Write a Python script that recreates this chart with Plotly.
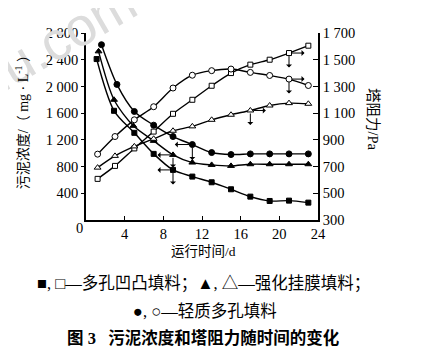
import plotly.graph_objects as go

# ---- data ----
days = [1.2, 3, 5, 7, 9, 11, 13, 15, 17, 19, 21, 23]
days_fc = [1.6, 3.2, 5, 7, 9, 11, 13, 15, 17, 19, 21, 23]
days_ft = [1.3, 2.9, 4.9, 7, 9, 11, 13, 15, 17, 19, 21, 23]
days_fs = [1.1, 2.9, 5, 7, 9, 11, 13, 15, 17, 19, 21, 23]

# sludge concentration, mg/L (left axis, filled markers)
conc_porous_convex = [2410, 1635, 1305, 990, 750, 650, 565, 460, 350, 285, 290, 260]       # ■
conc_enhanced_film = [2525, 1800, 1410, 1185, 975, 860, 825, 810, 835, 835, 835, 835]      # ▲
conc_light_porous = [2625, 2030, 1625, 1420, 1250, 1130, 1010, 980, 990, 990, 990, 990]    # ●

# tower resistance, Pa (right axis, open markers)
res_porous_convex = [608, 705, 836, 962, 1095, 1200, 1305, 1400, 1463, 1500, 1550, 1605]   # □
res_enhanced_film = [692, 780, 851, 908, 968, 1001, 1050, 1088, 1120, 1157, 1175, 1170]    # △
res_light_porous = [793, 925, 1050, 1148, 1288, 1384, 1418, 1430, 1405, 1382, 1355, 1307]  # ○

x_ticks = [4, 8, 12, 16, 20, 24]
left_ticks = [400, 800, 1200, 1600, 2000, 2400, 2800]
left_ticktext = ["400", "800", "1 200", "1 600", "2 000", "2 400", "2 800"]
right_ticks = [300, 500, 700, 900, 1100, 1300, 1500, 1700]
right_ticktext = ["300", "500", "700", "900", "1 100", "1 300", "1 500", "1 700"]

SERIF = "Liberation Serif, Times New Roman, Noto Sans CJK SC, serif"
CJK = "Liberation Serif, Noto Sans CJK SC, serif"

fig = go.Figure()

def add(xs, ys, symbol, filled, size, axis):
    fig.add_trace(go.Scatter(
        x=xs, y=ys, mode="lines+markers", yaxis=axis,
        line=dict(color="black", width=1.4, shape="spline", smoothing=0.8),
        marker=dict(symbol=symbol, size=size,
                    color="black" if filled else "white",
                    line=dict(color="black", width=1)),
        showlegend=False, cliponaxis=False))

add(days_fs, conc_porous_convex, "square", True, 5, "y")
add(days_ft, conc_enhanced_film, "triangle-up", True, 6, "y")
add(days_fc, conc_light_porous, "circle", True, 6, "y")
add(days, res_porous_convex, "square", False, 5, "y2")
add(days, res_enhanced_film, "triangle-up", False, 6, "y2")
add(days, res_light_porous, "circle", False, 6, "y2")

annotations = []

def arrow(xv, yv, yref, ax, ay):
    annotations.append(dict(
        x=xv, y=yv, xref="x", yref=yref, text="", showarrow=True,
        ax=ax, ay=ay, arrowside="start", arrowhead=2, arrowsize=1.1,
        arrowwidth=1, arrowcolor="black", standoff=3))

# open series -> right axis (arrows point right)
arrow(days[10], res_porous_convex[10], "y2", 17, 0)
arrow(days[10], res_porous_convex[10], "y2", 0, 16)
arrow(days[10], res_light_porous[10], "y2", 17, 0)
arrow(days[10], res_light_porous[10], "y2", 0, 16)
arrow(days[8], res_enhanced_film[8], "y2", 17, 0)
arrow(days[8], res_enhanced_film[8], "y2", 0, 16)
# filled series -> left axis (arrows point left)
arrow(days_fc[5], conc_light_porous[5], "y", -19, 0)
arrow(days_fc[5], conc_light_porous[5], "y", 0, 17)
arrow(days_ft[4], conc_enhanced_film[4], "y", -17, 0)
arrow(days_ft[4], conc_enhanced_film[4], "y", 0, 14)
arrow(days_fs[4], conc_porous_convex[4], "y", -17, 0)
arrow(days_fs[4], conc_porous_convex[4], "y", 0, 16)

# watermark
annotations.append(dict(x=-0.135, y=0.956, xref="paper", yref="paper",
                        text="nu.com", showarrow=False, textangle=-30,
                        font=dict(family="Liberation Sans, Arial, sans-serif", size=54, color="#dcdcdc"),
                        xanchor="center", yanchor="middle"))

# origin "0"
annotations.append(dict(x=-0.03, y=-0.045, xref="paper", yref="paper", text="0",
                        showarrow=False, font=dict(family=SERIF, size=14.5, color="black"),
                        xanchor="center", yanchor="middle"))
# axis titles
annotations.append(dict(x=-0.275, y=0.54, xref="paper", yref="paper",
                        text="污泥浓度/（ mg · L<sup>-1</sup> ）", showarrow=False, textangle=-90,
                        font=dict(family=CJK, size=14, color="black"),
                        xanchor="center", yanchor="middle"))
annotations.append(dict(x=1.237, y=0.535, xref="paper", yref="paper",
                        text="塔阻力/Pa", showarrow=False, textangle=90,
                        font=dict(family=CJK, size=14.5, color="black"),
                        xanchor="center", yanchor="middle"))
annotations.append(dict(x=0.508, y=-0.17, xref="paper", yref="paper",
                        text="运行时间/d", showarrow=False,
                        font=dict(family=CJK, size=13.5, color="black"),
                        xanchor="center", yanchor="middle"))
# legend text and caption
annotations.append(dict(x=0.508, y=-0.337, xref="paper", yref="paper",
                        text="■, □—多孔凹凸填料；▲, △—强化挂膜填料；", showarrow=False,
                        font=dict(family=CJK, size=16.5, color="black"),
                        xanchor="center", yanchor="middle"))
annotations.append(dict(x=0.513, y=-0.487, xref="paper", yref="paper",
                        text="●, ○—轻质多孔填料", showarrow=False,
                        font=dict(family=CJK, size=16.5, color="black"),
                        xanchor="center", yanchor="middle"))
annotations.append(dict(x=0.508, y=-0.632, xref="paper", yref="paper",
                        text="<b>图 3   污泥浓度和塔阻力随时间的变化</b>", showarrow=False,
                        font=dict(family=CJK, size=16.5, color="black"),
                        xanchor="center", yanchor="middle"))

fig.update_layout(
    width=435, height=357,
    margin=dict(l=78, r=125, t=25, b=145),
    paper_bgcolor="white", plot_bgcolor="white",
    showlegend=False,
    xaxis=dict(range=[0, 24], tickvals=x_ticks, ticks="inside", ticklen=4,
               tickwidth=1, tickcolor="black", showgrid=False, zeroline=False,
               showline=True, linecolor="black", linewidth=1.5,
               tickfont=dict(family=SERIF, size=14.5, color="black")),
    yaxis=dict(range=[0, 2800], tickvals=left_ticks, ticktext=left_ticktext,
               ticks="outside", ticklen=3, tickwidth=1, tickcolor="black",
               showgrid=False, zeroline=False, showline=True, linecolor="black",
               linewidth=1.5, tickfont=dict(family=SERIF, size=14.5, color="black")),
    yaxis2=dict(range=[300, 1700], tickvals=right_ticks, ticktext=right_ticktext,
                overlaying="y", side="right", anchor="x",
                ticks="inside", ticklen=5, tickwidth=1, tickcolor="black",
                showgrid=False, zeroline=False, showline=True, linecolor="black",
                linewidth=1.5, tickfont=dict(family=SERIF, size=14.5, color="black")),
    annotations=annotations,
)

fig.write_html("out.html")
